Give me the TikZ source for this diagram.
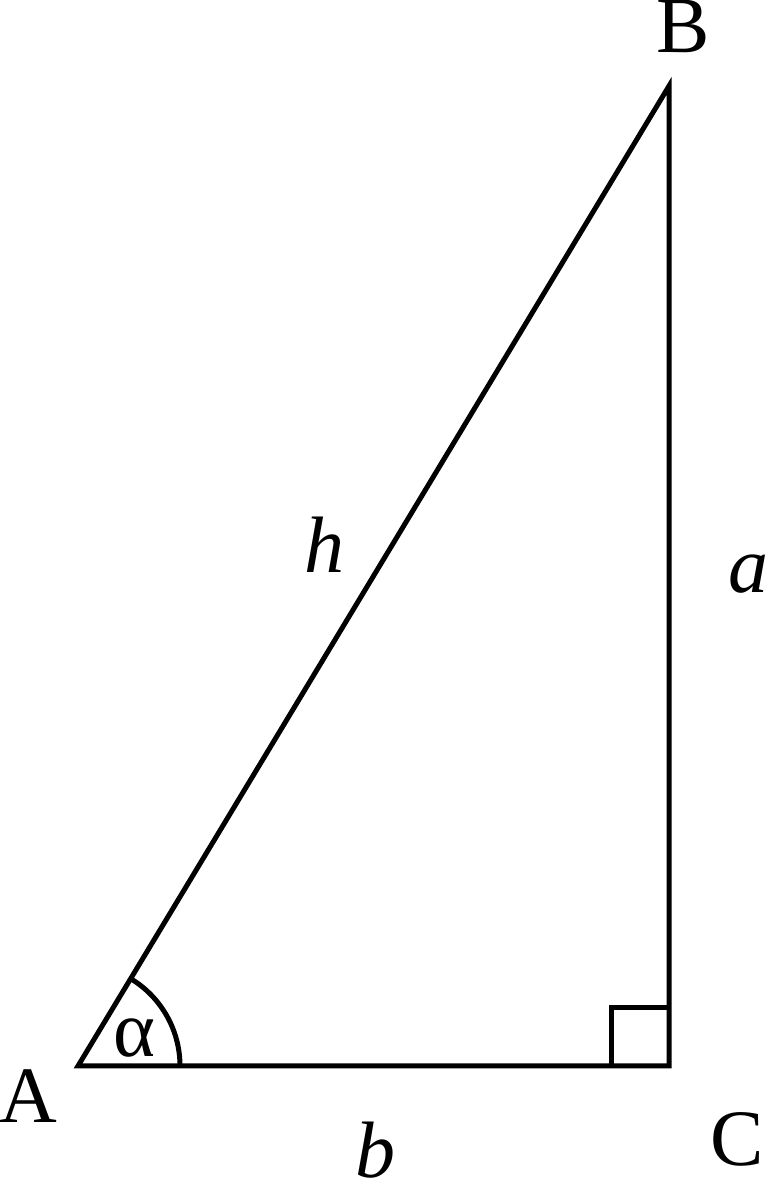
\documentclass[tikz,border=0pt]{standalone}
\usepackage{fontspec}
\setmainfont{Liberation Serif}
\begin{document}
\begin{tikzpicture}[x=1pt,y=1pt,
  edge/.style={line width=5pt,line join=miter},
  lbl/.style={anchor=base,inner sep=0pt,font=\fontsize{80}{96}\selectfont}]
\useasboundingbox (0,0) rectangle (768,1184);
\coordinate (A) at (78,118);
\coordinate (C) at (669,118);
\coordinate (B) at (669,1098);
\draw[edge] (A) -- (C) -- (B) -- cycle;
\draw[edge] ([xshift=-58]C) |- ([yshift=58]C);
\draw[edge] ([xshift=102]A) arc[start angle=0,end angle=58.9,radius=102];
\node[lbl] (lB) at (683,1131) {B};
\node[lbl] (lA) at (28,61) {A};
\node[lbl] (lC) at (737,18) {C};
\node[lbl] (lh) at (324,611) {\textit{h}};
\node[lbl] (la) at (748,591) {\textit{a}};
\node[lbl] (lb) at (375,6) {\textit{b}};
\node[lbl] (lal) at (134,127) {α};
\end{tikzpicture}
\end{document}
